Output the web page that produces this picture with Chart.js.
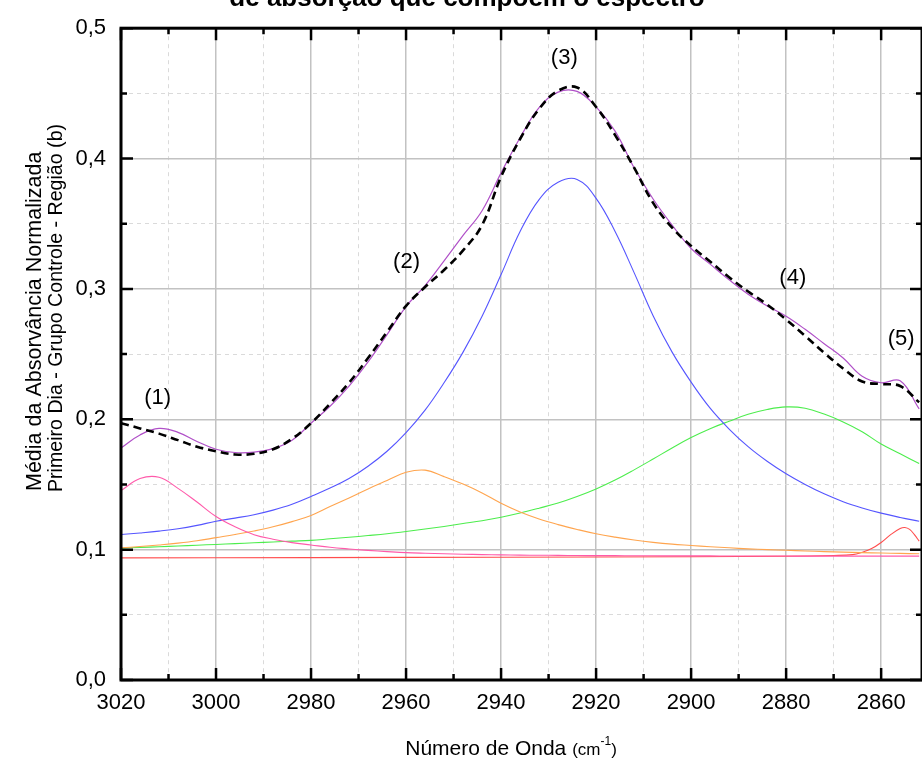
<!DOCTYPE html>
<html>
<head>
<meta charset="utf-8">
<script src="https://cdn.jsdelivr.net/npm/chart.js@4.4.1/dist/chart.umd.min.js"></script>
<style>
  html, body { margin: 0; padding: 0; background: #fff; }
</style>
</head>
<body>
<canvas id="chart" width="922" height="760"></canvas>
<script>
// wavenumber grid (cm-1) shared by the spectrum, the fit sum and bands 1-4
const waveNumbers = [3020, 3016, 3012, 3008, 3004, 3000, 2996, 2992, 2988, 2984,
  2980, 2976, 2972, 2968, 2964, 2960, 2956, 2952, 2948, 2944,
  2940, 2936, 2932, 2928, 2924, 2920, 2916, 2912, 2908, 2904,
  2900, 2896, 2892, 2888, 2884, 2880, 2876, 2872, 2868, 2864,
  2860, 2856, 2852];

// measured mean spectrum (dashed)
const experimental = [0.197, 0.193, 0.189, 0.184, 0.179, 0.1755, 0.173, 0.1735, 0.177, 0.185,
  0.197, 0.212, 0.228, 0.247, 0.267, 0.287, 0.3015, 0.3145, 0.3295, 0.349,
  0.386, 0.415, 0.438, 0.452, 0.4545, 0.4396, 0.418, 0.393, 0.366, 0.347,
  0.333, 0.321, 0.309, 0.298, 0.288, 0.2765, 0.264, 0.251, 0.239, 0.229,
  0.227, 0.2255, 0.213];

// sum of the fitted bands
const fitSum = [0.178, 0.188, 0.193, 0.190, 0.183, 0.177, 0.1745, 0.1748, 0.1775, 0.184,
  0.197, 0.210, 0.2255, 0.244, 0.265, 0.2865, 0.3025, 0.3215, 0.341, 0.360,
  0.389, 0.416, 0.439, 0.451, 0.4515, 0.4396, 0.421, 0.393, 0.369, 0.349,
  0.331, 0.319, 0.307, 0.296, 0.287, 0.279, 0.269, 0.258, 0.247, 0.233,
  0.228, 0.2295, 0.208];

// band (1)
const band1 = [0.1453, 0.1545, 0.1555, 0.147, 0.1365, 0.1254, 0.1175, 0.1115, 0.108, 0.1054,
  0.1036, 0.1018, 0.1005, 0.0994, 0.0985, 0.0977, 0.0972, 0.0968, 0.0965, 0.0962,
  0.096, 0.0958, 0.0957, 0.0956, 0.0955, 0.0954, 0.0954, 0.0953, 0.0953, 0.0952,
  0.0952, 0.0952, 0.0951, 0.0951, 0.0951, 0.0951, 0.095, 0.095, 0.095, 0.095,
  0.095, 0.095, 0.095];

// band (2)
const band2 = [0.1014, 0.1024, 0.1036, 0.105, 0.1068, 0.1092, 0.1116, 0.1143, 0.1175, 0.1215,
  0.1262, 0.133, 0.1397, 0.1466, 0.153, 0.1593, 0.161, 0.156, 0.1503, 0.1435,
  0.1355, 0.1288, 0.1235, 0.1192, 0.1155, 0.1122, 0.1096, 0.1074, 0.1056, 0.1042,
  0.1032, 0.1022, 0.1014, 0.1006, 0.1, 0.0995, 0.099, 0.0985, 0.0981, 0.0977,
  0.0974, 0.0971, 0.0968];

// band (3)
const band3 = [0.1116, 0.1128, 0.1142, 0.116, 0.1186, 0.1218, 0.1242, 0.1268, 0.1303, 0.1348,
  0.1408, 0.1472, 0.1545, 0.164, 0.1755, 0.1898, 0.207, 0.228, 0.2515, 0.279,
  0.311, 0.344, 0.3685, 0.3818, 0.384, 0.3695, 0.344, 0.3125, 0.2795, 0.2515,
  0.2285, 0.2085, 0.1925, 0.179, 0.1678, 0.1582, 0.150, 0.1428, 0.1368, 0.132,
  0.128, 0.1247, 0.1218];

// band (4)
const band4 = [0.1012, 0.1017, 0.1022, 0.1028, 0.1034, 0.104, 0.1046, 0.1053, 0.1059, 0.1065,
  0.1071, 0.1083, 0.1095, 0.1108, 0.1122, 0.1139, 0.1158, 0.1178, 0.12, 0.1222,
  0.1249, 0.1281, 0.1318, 0.1358, 0.1408, 0.1466, 0.1534, 0.1612, 0.1695, 0.178,
  0.186, 0.1928, 0.1985, 0.2038, 0.2075, 0.2095, 0.2085, 0.204, 0.198, 0.1905,
  0.181, 0.1735, 0.166];

// band (5) is narrow, so it gets its own finer grid near the peak
const band5WaveNumbers = [3020, 2980, 2940, 2900, 2880, 2870, 2866, 2864, 2862, 2860,
  2858, 2856, 2855, 2854, 2853, 2852];
const band5 = [0.0937, 0.0939, 0.0942, 0.0946, 0.0949, 0.0955, 0.0962, 0.098, 0.1008, 0.1055,
  0.1115, 0.1162, 0.117, 0.1155, 0.1115, 0.1065];

// band labels and where they sit (cm-1, absorbance)
const bandLabels = ['(1)', '(2)', '(3)', '(4)', '(5)'];
const bandLabelX = [3012.3, 2959.9, 2926.7, 2878.6, 2855.8];
const bandLabelY = [0.216, 0.3205, 0.4772, 0.3083, 0.2615];

const FONT = '"Liberation Sans", Arial, sans-serif';
Chart.defaults.font.family = FONT;
Chart.defaults.color = '#000';

const toPoints = (xs, ys) => xs.map((x, i) => ({ x: x, y: ys[i] }));
const isMajor = (v, step) => Math.abs(v / step - Math.round(v / step)) < 1e-6;

const line = (data, color, width, dash) => ({
  data: data,
  borderColor: color,
  borderWidth: width,
  borderDash: dash || [],
  pointRadius: 0,
  fill: false,
  tension: 0.4
});

const axisDecor = {
  id: 'axisDecor',
  afterDatasetsDraw(chart) {
    const { ctx, chartArea: a, scales: { x, y } } = chart;
    ctx.save();
    ctx.strokeStyle = '#000';
    ctx.lineWidth = 2.5;
    ctx.beginPath();
    x.ticks.forEach(t => {
      if (!isMajor(t.value, 10)) return;
      const len = isMajor(t.value, 20) ? 12 : 6;
      const px = x.getPixelForValue(t.value);
      ctx.moveTo(px, a.bottom); ctx.lineTo(px, a.bottom - len);
      ctx.moveTo(px, a.top); ctx.lineTo(px, a.top + len);
    });
    y.ticks.forEach(t => {
      const len = isMajor(t.value, 0.1) ? 12 : 6;
      const py = y.getPixelForValue(t.value);
      ctx.moveTo(a.left, py); ctx.lineTo(a.left + len, py);
      ctx.moveTo(a.right, py); ctx.lineTo(a.right - len, py);
    });
    ctx.stroke();
    ctx.lineWidth = 3;
    ctx.strokeRect(a.left, a.top, a.right - a.left, a.bottom - a.top);

    // band numbers
    ctx.fillStyle = '#000';
    ctx.font = '22px ' + FONT;
    ctx.textAlign = 'center';
    ctx.textBaseline = 'middle';
    bandLabels.forEach((lbl, i) => {
      ctx.fillText(lbl, x.getPixelForValue(bandLabelX[i]), y.getPixelForValue(bandLabelY[i]));
    });
    ctx.restore();
  },
  afterDraw(chart) {
    const ctx = chart.ctx;
    ctx.save();
    ctx.fillStyle = '#000';

    // title (second line only)
    ctx.font = 'bold 26px ' + FONT;
    ctx.textAlign = 'center';
    ctx.textBaseline = 'alphabetic';
    ctx.fillText('de absorção que compõem o espectro', 467, 6);

    // x axis title with superscript
    const parts = [
      { t: 'Número de Onda ', f: '21px ' + FONT, dy: 0 },
      { t: '(cm', f: '17px ' + FONT, dy: 0 },
      { t: '-1', f: '12px ' + FONT, dy: -10 },
      { t: ')', f: '17px ' + FONT, dy: 0 }
    ];
    let total = 0;
    parts.forEach(p => { ctx.font = p.f; p.w = ctx.measureText(p.t).width; total += p.w; });
    let cx = 511 - total / 2;
    ctx.textAlign = 'left';
    parts.forEach(p => { ctx.font = p.f; ctx.fillText(p.t, cx, 755 + p.dy); cx += p.w; });

    // y axis title, two lines
    ctx.save();
    ctx.font = '21.5px ' + FONT;
    ctx.translate(41, 491);
    ctx.rotate(-Math.PI / 2);
    ctx.fillText('Média da Absorvância Normalizada', 0, 0);
    ctx.restore();
    ctx.save();
    ctx.font = '19.6px ' + FONT;
    ctx.translate(62, 492);
    ctx.rotate(-Math.PI / 2);
    ctx.fillText('Primeiro Dia - Grupo Controle - Região (b)', 0, 0);
    ctx.restore();

    ctx.restore();
  }
};

new Chart(document.getElementById('chart'), {
  type: 'line',
  data: {
    datasets: [
      line(toPoints(waveNumbers, experimental), '#000000', 2.6, [8, 5]),
      line(toPoints(waveNumbers, fitSum), '#B050C8', 1.2),
      line(toPoints(waveNumbers, band1), '#FF5AAA', 1.1),
      line(toPoints(waveNumbers, band2), '#FFA54F', 1.1),
      line(toPoints(waveNumbers, band3), '#5555FF', 1.1),
      line(toPoints(waveNumbers, band4), '#4DED4D', 1.1),
      line(toPoints(band5WaveNumbers, band5), '#FF4D4D', 1.1)
    ]
  },
  options: {
    responsive: false,
    animation: false,
    layout: { padding: { top: 26, right: -2, left: 0, bottom: 0 } },
    plugins: { legend: { display: false }, tooltip: { enabled: false } },
    scales: {
      x: {
        type: 'linear',
        reverse: true,
        min: 2851.4,
        max: 3020,
        afterFit: s => { s.height = 80; s.paddingLeft = 0; s.paddingRight = 0; },
        ticks: {
          stepSize: 10,
          includeBounds: false,
          autoSkip: false,
          maxRotation: 0,
          padding: 10,
          font: { size: 22 },
          callback: v => isMajor(v, 20) ? String(Math.round(v)) : ''
        },
        grid: {
          drawTicks: false,
          color: c => (c.tick && isMajor(c.tick.value, 20)) ? '#c2c2c2' : '#dadada',
          lineWidth: c => (c.tick && isMajor(c.tick.value, 20)) ? 1.5 : 1
        },
        border: {
          display: false,
          dash: c => (c.tick && !isMajor(c.tick.value, 20)) ? [4, 4] : []
        }
      },
      y: {
        min: 0,
        max: 0.5,
        afterFit: s => { s.width = 121; },
        ticks: {
          stepSize: 0.05,
          autoSkip: false,
          padding: 15,
          font: { size: 22 },
          callback: v => isMajor(v, 0.1) ? v.toFixed(1).replace('.', ',') : ''
        },
        grid: {
          drawTicks: false,
          color: c => (c.tick && isMajor(c.tick.value, 0.1)) ? '#c2c2c2' : '#dadada',
          lineWidth: c => (c.tick && isMajor(c.tick.value, 0.1)) ? 1.5 : 1
        },
        border: {
          display: false,
          dash: c => (c.tick && !isMajor(c.tick.value, 0.1)) ? [4, 4] : []
        }
      }
    }
  },
  plugins: [axisDecor]
});
</script>
</body>
</html>
